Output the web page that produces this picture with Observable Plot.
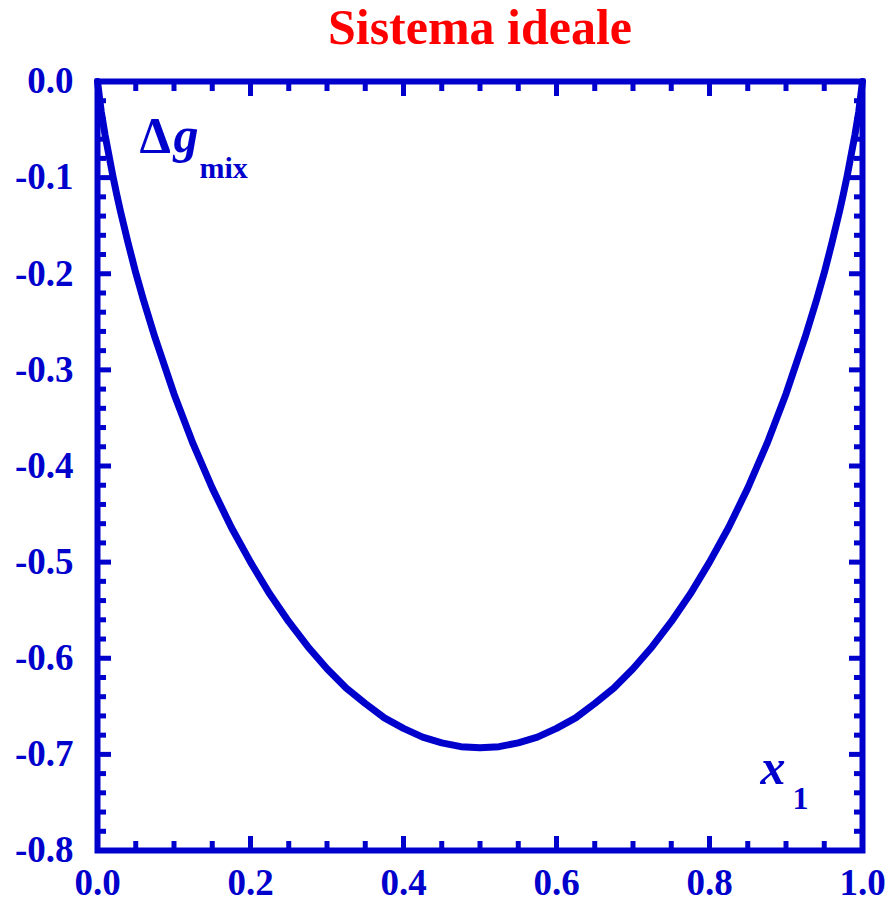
<!DOCTYPE html>
<html>
<head>
<meta charset="utf-8">
<script src="https://cdn.jsdelivr.net/npm/d3@7"></script>
<script src="https://cdn.jsdelivr.net/npm/@observablehq/plot@0.6"></script>
<style>
  html, body { margin: 0; padding: 0; background: #fff; }
</style>
</head>
<body>
<div id="chart"></div>
<script>
// Molar Gibbs energy of mixing (dimensionless) for an ideal binary system
const x1 = [0, 0.005, 0.01, 0.02, 0.025, 0.03, 0.04, 0.05, 0.06, 0.075, 0.1, 0.125, 0.15, 0.175, 0.2, 0.225,
            0.25, 0.275, 0.3, 0.325, 0.35, 0.375, 0.4, 0.425, 0.45, 0.475,
            0.5, 0.525, 0.55, 0.575, 0.6, 0.625, 0.65, 0.675, 0.7, 0.725, 0.75, 0.775,
            0.8, 0.825, 0.85, 0.875, 0.9, 0.925, 0.94, 0.95, 0.96, 0.97, 0.975, 0.98, 0.99, 0.995, 1];
const dgMix = [0, -0.032, -0.056, -0.098, -0.117, -0.135, -0.168, -0.199, -0.227, -0.266, -0.325, -0.377, -0.423, -0.464, -0.500, -0.533,
               -0.562, -0.588, -0.611, -0.631, -0.647, -0.662, -0.673, -0.682, -0.688, -0.692,
               -0.693, -0.692, -0.688, -0.682, -0.673, -0.662, -0.647, -0.631, -0.611, -0.588, -0.562, -0.533,
               -0.500, -0.464, -0.423, -0.377, -0.325, -0.266, -0.227, -0.199, -0.168, -0.135, -0.117, -0.098, -0.056, -0.032, 0];

const xMajor = [0, 0.2, 0.4, 0.6, 0.8, 1.0];
const xMinor = [0.05, 0.1, 0.15, 0.25, 0.3, 0.35, 0.45, 0.5, 0.55, 0.65, 0.7, 0.75, 0.85, 0.9, 0.95];
const yMajor = [0, -0.1, -0.2, -0.3, -0.4, -0.5, -0.6, -0.7, -0.8];
const yMinor = d3.range(0, 41).map(i => -i * 0.02).filter((v, i) => i % 5 !== 0);

const titleText = "Sistema ideale";

const data = x1.map((x, i) => ({x, y: dgMix[i]}));

const blue = "#0000cc";
const fmt = d => (d === 0 ? 0 : d).toFixed(1);   // plain hyphen for negatives
const noText = () => "";

const plot = Plot.plot({
  width: 891,
  height: 903,
  marginLeft: 97,
  marginRight: 29,
  marginTop: 81,
  marginBottom: 53,
  x: {domain: [0, 1]},
  y: {domain: [-0.8, 0]},
  style: {
    fontFamily: "'Liberation Serif', 'Times New Roman', serif",
    fontWeight: "bold",
    fontSize: "37px",
    color: blue,
    background: "#fff",
    overflow: "visible"
  },
  marks: [
    // inward ticks on all four sides
    Plot.axisX(xMajor, {anchor: "bottom", tickSize: -14, strokeWidth: 5, tickFormat: noText, label: null}),
    Plot.axisX(xMinor, {anchor: "bottom", tickSize: -9, strokeWidth: 5, tickFormat: noText, label: null}),
    Plot.axisX(xMajor, {anchor: "top", tickSize: -14, strokeWidth: 5, tickFormat: noText, label: null}),
    Plot.axisX(xMinor, {anchor: "top", tickSize: -9, strokeWidth: 5, tickFormat: noText, label: null}),
    Plot.axisY(yMajor, {anchor: "left", tickSize: -14, strokeWidth: 5, tickFormat: noText, label: null}),
    Plot.axisY(yMinor, {anchor: "left", tickSize: -9, strokeWidth: 5, tickFormat: noText, label: null}),
    Plot.axisY(yMajor, {anchor: "right", tickSize: -14, strokeWidth: 5, tickFormat: noText, label: null}),
    Plot.axisY(yMinor, {anchor: "right", tickSize: -9, strokeWidth: 5, tickFormat: noText, label: null}),
    // tick labels
    Plot.axisX(xMajor, {anchor: "bottom", tickSize: 0, tickPadding: 18, tickFormat: fmt, label: null,
      fontSize: 37, fontWeight: "bold"}),
    Plot.axisY(yMajor, {anchor: "left", tickSize: 0, tickPadding: 24, tickFormat: fmt, label: null,
      fontSize: 37, fontWeight: "bold"}),
    Plot.frame({stroke: blue, strokeWidth: 6}),
    Plot.line(data, {x: "x", y: "y", stroke: blue, strokeWidth: 7, strokeLinejoin: "round"}),
    // title
    Plot.text([titleText], {frameAnchor: "top", dx: 0, dy: -38, lineAnchor: "bottom",
      fill: "#ff0000", fontSize: 50, fontWeight: "bold"}),
    // y label: Δg_mix
    Plot.text(["Δ"], {frameAnchor: "top-left", dx: 42, dy: 70, lineAnchor: "bottom", textAnchor: "start",
      fill: blue, fontSize: 50, fontStyle: "normal"}),
    Plot.text(["g"], {frameAnchor: "top-left", dx: 76, dy: 70, lineAnchor: "bottom", textAnchor: "start",
      fill: blue, fontSize: 50, fontStyle: "italic"}),
    Plot.text(["mix"], {frameAnchor: "top-left", dx: 102, dy: 96, lineAnchor: "bottom", textAnchor: "start",
      fill: blue, fontSize: 30}),
    // x label: x_1
    Plot.text(["x"], {frameAnchor: "top-left", dx: 663, dy: 702, lineAnchor: "bottom", textAnchor: "start",
      fill: blue, fontSize: 50, fontStyle: "italic"}),
    Plot.text(["1"], {frameAnchor: "top-left", dx: 695, dy: 727, lineAnchor: "bottom", textAnchor: "start",
      fill: blue, fontSize: 32})
  ]
});

document.getElementById("chart").appendChild(plot);
</script>
</body>
</html>
